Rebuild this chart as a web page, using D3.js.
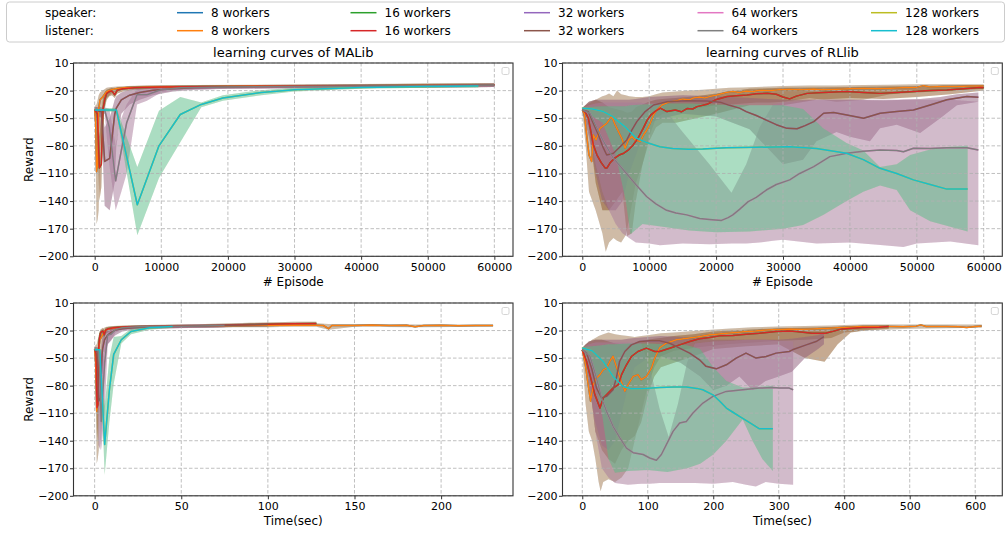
<!DOCTYPE html>
<html><head><meta charset="utf-8">
<script src="https://cdn.jsdelivr.net/npm/d3@7"></script>
<style>
body{margin:0;background:#fff}
text{font-family:"DejaVu Sans",sans-serif;fill:#000}
</style>
</head><body>
<svg id="chart" width="1007" height="534"></svg>
<script>
// ---------------- data ----------------
const groupLabels = ["8 workers","16 workers","32 workers","64 workers","128 workers"];
const roleLabels = ["speaker:","listener:"];
const speakerColors = ["#1f77b4","#2ca02c","#9467bd","#e377c2","#bcbd22"];
const listenerColors = ["#ff7f0e","#d62728","#8c564b","#7f7f7f","#17becf"];
const yTicks = [10,-20,-50,-80,-110,-140,-170,-200];
const yTickLabels = ["10","\u221220","\u221250","\u221280","\u2212110","\u2212140","\u2212170","\u2212200"];
const episodeTicks = [0,10000,20000,30000,40000,50000,60000];
const malibTimeTicks = [0,50,100,150,200];
const rllibTimeTicks = [0,100,200,300,400,500,600];

// MALib, x = episode.  mean: [x, reward]; band: [x, low, high]
const malibEpMean8 = [[0,-40],[150,-55],[280,-108],[450,-100],[600,-40],[800,-30],[1200,-27],[1800,-21],[2500,-19],[3500,-17.5],[5000,-16.5],[8000,-16],[15000,-15.5],[25000,-15],[35000,-14.8],[45000,-14.5],[55000,-14],[60000,-13.5]];
const malibEpBand8 = [[0,-44,-37],[150,-90,-36],[280,-165,-35],[450,-160,-30],[600,-150,-25],[800,-80,-22],[1200,-45,-20],[1800,-28,-17],[2500,-23,-16],[3500,-20,-15.5],[5000,-18.5,-15],[8000,-18,-14.5],[15000,-17.5,-14],[25000,-17,-13.5],[35000,-16.5,-13],[45000,-16.5,-12.5],[55000,-16,-12],[60000,-15.5,-12]];
const malibEpMean16 = [[0,-41],[400,-45],[700,-104],[1000,-100],[1250,-40],[1500,-30],[1800,-23],[2200,-21],[2600,-20.5],[3000,-24.5],[3400,-19.5],[4250,-18],[6000,-17],[10000,-16],[20000,-15.5],[30000,-15],[40000,-14.8],[50000,-14.5],[60000,-13.5]];
const malibEpBand16 = [[0,-44,-38],[400,-55,-38],[700,-140,-70],[1000,-125,-45],[1250,-55,-28],[1500,-40,-22],[1800,-30,-19],[2200,-26,-18],[2600,-25,-17],[3000,-28,-20],[3400,-23,-17],[4250,-21,-16],[6000,-19,-15],[10000,-18,-14.5],[20000,-17.5,-14],[30000,-17,-13.5],[40000,-16.5,-13],[50000,-16.5,-12.5],[60000,-16,-12]];
const malibEpMean32 = [[0,-41],[1000,-43],[1500,-97],[2250,-93.5],[3000,-46],[3250,-39],[4000,-30],[5250,-25],[6750,-22],[8750,-19.5],[11750,-18],[15000,-17],[20000,-16],[30000,-15.5],[45000,-15],[60000,-14]];
const malibEpBand32 = [[0,-44,-38],[1000,-50,-38],[1500,-145,-60],[2250,-150,-50],[3000,-120,-30],[3250,-80,-26],[4000,-45,-22],[5250,-35,-19],[6750,-30,-18],[8750,-25,-17],[11750,-21,-16],[15000,-19,-15],[20000,-18,-14.5],[30000,-17.5,-14],[45000,-17,-13.5],[60000,-16,-12.5]];
const malibEpMean64 = [[0,-41],[1500,-41],[2200,-60],[3150,-118],[4000,-85],[4800,-55],[6350,-24.5],[7850,-24.5],[9950,-19],[13000,-17],[20000,-16],[30000,-15.5],[45000,-15],[60000,-14]];
const malibEpBand64 = [[0,-44,-38],[1500,-45,-38],[2200,-100,-40],[3150,-150,-80],[4000,-130,-50],[4800,-110,-35],[6350,-35,-18],[7850,-31,-20],[9950,-22,-17],[13000,-19,-15.5],[20000,-18,-14.5],[30000,-17.5,-14],[45000,-17,-13.5],[60000,-16,-12.5]];
const malibEpMean128 = [[0,-41],[3250,-41],[6400,-144],[9650,-80],[12850,-46],[16000,-35],[19250,-28],[25000,-22],[30000,-19],[40000,-16.5],[50000,-15.5],[57600,-15]];
const malibEpBand128 = [[0,-42.5,-39.5],[3250,-43,-39],[6400,-177,-103],[9650,-115,-42],[12850,-76,-27],[16000,-38,-33],[19250,-31,-25],[25000,-25,-19.5],[30000,-21,-17],[40000,-18,-15],[50000,-17,-14],[57600,-16.5,-13.5]];

// MALib, x = time (sec)
const malibTimeMean8 = [[0,-40],[0.6,-55],[1.2,-108],[1.8,-100],[2.4,-40],[3,-30],[4,-27],[5.5,-21],[7,-19],[10,-17.5],[15,-16.5],[25,-16],[40,-15.5],[60,-15],[80,-14.8],[100,-14.5],[115,-14],[128,-14.2],[132,-14.5],[135,-18],[137,-14.5],[150,-14.5],[160,-14],[170,-14.5],[180,-14.2],[185,-15.8],[190,-14.5],[200,-14.3],[210,-14.8],[220,-14.4],[230,-14.6]];
const malibTimeBand8 = [[0,-44,-37],[0.6,-90,-36],[1.2,-165,-35],[1.8,-160,-30],[2.4,-150,-25],[3,-80,-22],[4,-45,-20],[5.5,-28,-17],[7,-23,-16],[10,-20,-15.5],[15,-18.5,-15],[25,-18,-14.5],[40,-17.5,-14],[60,-17,-13.5],[80,-16.5,-13],[100,-16.5,-12.5],[115,-16,-12],[128,-16,-12],[135,-19,-13],[150,-16,-13],[185,-16.5,-13.5],[230,-16,-13.5]];
const malibTimeMean16 = [[0,-41],[0.8,-45],[1.4,-104],[1.9,-100],[2.3,-40],[2.7,-30],[3.3,-23],[4,-21],[4.8,-20.5],[5.6,-24.5],[6.3,-19.5],[8,-18],[11,-17],[18,-16],[30,-15.5],[50,-15],[70,-14.5],[90,-13.5],[105,-12.8],[115,-12.5],[128,-12.3]];
const malibTimeBand16 = [[0,-44,-38],[0.8,-55,-38],[1.4,-140,-70],[1.9,-125,-45],[2.3,-55,-28],[2.7,-40,-22],[3.3,-30,-19],[4,-26,-18],[4.8,-25,-17],[5.6,-28,-20],[6.3,-23,-17],[8,-21,-16],[11,-19,-15],[18,-18,-14.5],[30,-17.5,-14],[50,-17,-13.5],[70,-16.5,-12.5],[90,-15.5,-11.5],[105,-15,-11],[115,-15,-10.5],[128,-15,-10.5]];
const malibTimeMean32 = [[0,-41],[1.5,-43],[2.3,-97],[3.3,-93.5],[4.3,-46],[4.7,-39],[5.7,-30],[7.5,-25],[9.5,-22],[12,-19.5],[16,-18],[22,-17],[30,-16],[45,-15.5],[65,-15],[85,-14],[100,-13.5]];
const malibTimeBand32 = [[0,-44,-38],[1.5,-50,-38],[2.3,-145,-60],[3.3,-150,-50],[4.3,-120,-30],[4.7,-80,-26],[5.7,-45,-22],[7.5,-35,-19],[9.5,-30,-18],[12,-25,-17],[16,-21,-16],[22,-19,-15],[30,-18,-14.5],[45,-17.5,-14],[65,-17,-13.5],[85,-16,-12.5],[100,-15.5,-12]];
const malibTimeMean64 = [[0,-41],[2,-41],[2.8,-60],[3.8,-119],[4.8,-85],[5.8,-55],[7.5,-25],[9.5,-24],[12,-19],[16,-17],[25,-16],[40,-15.5],[60,-15],[75,-14.5]];
const malibTimeBand64 = [[0,-44,-38],[2,-45,-38],[2.8,-100,-40],[3.8,-150,-80],[4.8,-130,-50],[5.8,-110,-35],[7.5,-35,-18],[9.5,-31,-20],[12,-22,-17],[16,-19,-15.5],[25,-18,-14.5],[40,-17.5,-14],[60,-17,-13.5],[75,-16.5,-13]];
const malibTimeMean128 = [[0,-41],[3,-41],[5.8,-144],[8.5,-85],[11,-46],[15.4,-30],[21,-21],[31.7,-17],[45,-15.6]];
const malibTimeBand128 = [[0,-43,-39],[3,-43,-39],[5.8,-177,-103],[8.5,-120,-50],[11,-78,-27],[15.4,-34,-26],[21,-24,-18],[31.7,-19,-15.5],[45,-17,-14.5]];

// RLlib, x = episode
const rllibEpMean8 = [[0,-41],[300,-45],[650,-68],[1000,-90],[1400,-97],[1650,-68],[2050,-73.6],[2650,-61],[3650,-55.5],[4400,-48],[4900,-57],[5900,-71.8],[6400,-82.7],[6900,-73.6],[7400,-70],[7900,-73.6],[8650,-75.4],[9150,-68.2],[9650,-62.8],[10150,-55.5],[10650,-46.4],[11150,-41],[11900,-35.6],[13150,-32],[14000,-31],[15000,-29],[16000,-30],[16600,-28],[17500,-27],[18300,-28],[19000,-26.5],[20000,-25],[21500,-22],[22500,-21],[23500,-22],[24500,-20.5],[25500,-21],[26500,-19.5],[28000,-20],[29500,-19],[31000,-18.5],[32500,-19],[34600,-18.2],[36000,-19],[38000,-18.5],[40000,-18],[42000,-17.5],[44000,-18],[46000,-17.5],[48000,-17],[50000,-16.5],[51000,-14.6],[52000,-16],[54000,-15.5],[56000,-15.5],[58000,-15],[60000,-15]];
const rllibEpBand8 = [[0,-43,-39],[500,-80,-36],[1000,-130,-34],[2000,-150,-30],[3000,-175,-26],[3500,-195,-25],[4000,-185,-23],[4650,-180,-26],[5200,-183,-20],[5800,-185,-24],[6500,-177,-25],[7000,-160,-26],[8000,-120,-27],[9000,-100,-27],[10000,-70,-26],[11000,-50,-24],[12000,-45,-22],[14000,-42,-21],[16000,-40,-20],[18000,-38,-19],[20000,-36,-18],[22000,-35,-17],[24000,-34,-16.5],[26000,-33,-16],[28000,-33,-15.5],[30000,-32,-15],[34000,-28,-14.5],[38000,-32,-14.5],[42000,-30,-14],[46000,-24,-13.5],[50000,-22,-13],[55000,-20,-13],[60000,-18,-13]];
const rllibEpMean16 = [[0,-41],[500,-44],[900,-50],[1300,-65],[1650,-79],[2200,-90],[2800,-98],[3400,-104],[3700,-104],[4200,-98],[4900,-93],[5500,-90],[6200,-88],[6800,-85],[7600,-79],[8300,-72],[9100,-61],[9700,-52],[10300,-46],[11000,-42],[11650,-39],[12650,-42.8],[13900,-41],[14800,-43],[15650,-39.5],[16500,-40],[17150,-37.4],[18650,-34.9],[19900,-30],[21650,-26.5],[23000,-25.5],[24650,-24.7],[26000,-23.5],[27650,-22.9],[29000,-24],[30000,-27],[31000,-29],[32000,-26],[33600,-23],[36000,-22],[39500,-21],[42000,-22],[44500,-23],[47000,-22],[49500,-21],[52000,-20],[54500,-19.3],[57000,-18],[59500,-16.7],[60000,-17]];
const rllibEpBand16 = [[0,-43,-39],[1000,-60,-32],[2000,-120,-30],[3000,-150,-33],[4000,-150,-38],[5000,-140,-40],[6000,-130,-42],[6700,-178,-44],[7400,-175,-43],[8000,-140,-38],[9000,-100,-35],[10000,-75,-32],[11000,-60,-30],[12000,-55,-29],[14000,-55,-28],[17000,-50,-26],[20000,-45,-23],[25000,-36,-18],[30000,-36,-17],[35000,-30,-16.5],[40000,-28,-16],[45000,-29,-15.5],[50000,-27,-15],[55000,-24,-14.5],[60000,-20,-14]];
const rllibEpMean32 = [[0,-41],[900,-43],[1600,-55],[2400,-68],[3000,-80],[3650,-90],[4650,-88],[5500,-82],[6650,-73.6],[7400,-63],[8150,-53.7],[9400,-42.8],[10650,-35.6],[12650,-32],[15650,-30.9],[18650,-31.2],[20650,-32.7],[22000,-36],[23500,-39],[24500,-42.8],[26000,-47],[27500,-52],[29000,-57],[30600,-61],[32100,-61.5],[33300,-58],[34600,-53.7],[36070,-44.6],[37560,-43.9],[39550,-46.4],[42040,-50],[44530,-44.6],[47000,-42.8],[49500,-41],[52000,-35.6],[54500,-30],[57500,-26.5],[59200,-27.2]];
const rllibEpBand32 = [[0,-43,-39],[1000,-70,-32],[2000,-110,-30],[3000,-140,-30],[4000,-150,-30],[5000,-150,-30],[6000,-140,-30],[7000,-110,-30],[8000,-90,-29],[9000,-70,-28],[10000,-55,-27],[12000,-50,-26],[15000,-45,-25],[20000,-48,-26],[25000,-62,-28],[30000,-100,-30],[33000,-95,-30],[35000,-75,-30],[38000,-65,-30],[40000,-70,-30],[43000,-75,-30],[44500,-61,-30],[47000,-57,-30],[50500,-66,-29],[53500,-50,-27],[56000,-36,-24],[59200,-32,-22]];
const rllibEpMean64 = [[0,-41],[1150,-44.6],[2000,-58],[3150,-75],[4650,-93.5],[6600,-110],[8000,-122],[9600,-135],[11000,-143],[12600,-150],[14000,-153],[15600,-155],[17550,-159],[19000,-160],[20800,-161],[21800,-158],[22500,-155],[23500,-149],[24800,-140.6],[26000,-136],[27500,-128],[29000,-122],[31000,-117],[32500,-110],[34600,-102.6],[37000,-91.7],[39550,-88],[42000,-86],[44500,-84.5],[47000,-85],[48000,-86.5],[49500,-82.7],[52000,-83],[54500,-82],[57500,-82],[59200,-84.5]];
const rllibEpBand64 = [[0,-43,-39],[1000,-60,-36],[2000,-100,-34],[3000,-130,-33],[4000,-150,-33],[5000,-165,-33],[6000,-175,-33],[7000,-180,-33],[8000,-185,-33],[10000,-186,-34],[11600,-188,-34],[15000,-186,-65],[19000,-187,-100],[22300,-186,-131],[24500,-186,-100],[26500,-185,-60],[28500,-183,-35],[30000,-182,-33],[35000,-186,-30],[40000,-185,-30],[45000,-188,-31],[48000,-190,-30],[50000,-186,-30],[55000,-184,-30],[59200,-188,-32]];
const rllibEpMean128 = [[0,-39.2],[1500,-40],[3150,-42.8],[4500,-48],[5150,-52],[6500,-60],[8100,-71.8],[9500,-76],[11600,-80.9],[13500,-83],[15800,-83.8],[18000,-83.5],[21500,-82],[26000,-81.5],[31000,-81],[35000,-83],[39500,-88],[42000,-95],[44500,-104.4],[47000,-110],[49500,-117],[52000,-122],[54500,-127],[57600,-127]];
const rllibEpBand128 = [[0,-41,-38],[3000,-55,-37],[5000,-90,-37],[6500,-140,-37],[7200,-176,-36],[9000,-165,-35],[12000,-168,-34],[16000,-172,-34],[20000,-174,-35],[25000,-173,-36],[30000,-170,-36],[33000,-166,-40],[36000,-155,-61],[39500,-140,-77],[42000,-130,-85],[44500,-123,-103],[47000,-128,-100],[49000,-150,-90],[52000,-162,-84],[55000,-168,-81],[57600,-173,-80]];

// RLlib, x = time (sec)
const rllibTimeMean8 = [[0,-41],[4,-53.7],[9,-79],[12.7,-97],[16.8,-79],[21.8,-71.8],[27,-68],[32,-62.8],[37,-61],[42,-53.7],[47,-48],[51,-57],[57,-70],[65,-86],[70,-79],[77.7,-70],[85,-68],[90,-73.6],[98,-70],[105.6,-61],[110.7,-50],[118,-39],[128.4,-33.8],[143.7,-30],[155,-29],[169,-27.6],[180,-26.5],[194.4,-24.7],[205,-24],[219.8,-22.9],[235,-22],[250,-21],[265,-20.5],[280.7,-19.3],[300,-18.8],[316,-18.2],[335,-18.5],[351,-18.2],[375,-17.5],[397,-16.7],[428,-15.6],[468,-15.6],[490,-15.8],[510,-15.2],[517,-13.8],[525,-15.5],[556,-15.5],[575,-16],[587,-16.7],[600,-15.5],[610,-15]];
const rllibTimeBand8 = [[0,-43,-39],[5,-100,-35],[10,-130,-33],[15,-140,-30],[20,-160,-28],[25,-185,-26],[28,-195,-25],[32,-185,-24],[40,-182,-22],[50,-185,-24],[60,-180,-25],[70,-170,-26],[80,-140,-27],[90,-110,-26],[100,-80,-25],[110,-60,-24],[120,-48,-23],[140,-42,-22],[180,-38,-20],[220,-35,-18],[260,-33,-16.5],[300,-31,-15.5],[340,-30,-15],[380,-28,-14.5],[400,-22,-14],[430,-20,-13.5],[500,-18,-13.5],[610,-17,-13.5]];
const rllibTimeMean16 = [[0,-41],[6.6,-53.7],[14.2,-75.4],[19.3,-90],[27,-104.4],[32,-93.5],[37,-90],[47,-82.7],[55,-79],[60,-68],[67.5,-57.3],[75,-48.3],[85,-42.8],[98,-39.2],[110.7,-42.8],[118,-42.8],[133.5,-39.2],[148.7,-35.6],[164,-32],[179,-29],[194.4,-27.6],[209.6,-25.8],[230,-25.4],[250,-24],[270.6,-22.9],[296,-21],[316,-20.4],[326.6,-21],[351,-22.9],[371.5,-22.9],[397,-18.2],[428,-16.7],[453,-16.4],[468,-15.6]];
const rllibTimeBand16 = [[0,-43,-39],[10,-70,-32],[20,-130,-30],[30,-150,-30],[40,-160,-32],[50,-165,-34],[60,-150,-35],[70,-140,-35],[80,-135,-34],[90,-120,-32],[100,-90,-30],[110,-70,-29],[120,-60,-28],[140,-55,-26],[170,-48,-24],[200,-40,-21],[250,-37,-19],[300,-35,-17.5],[340,-50,-17],[370,-54,-16.5],[390,-35,-16],[410,-22,-15],[440,-19,-14.5],[468,-18,-14]];
const rllibTimeMean32 = [[0,-41],[6.6,-44.6],[14.2,-61],[21.8,-82.7],[29.4,-93.5],[37,-91.7],[47,-84.5],[52,-71.8],[57,-53.7],[65,-42.8],[75,-35.6],[87.8,-32],[103,-31.2],[118,-31.2],[133.5,-33.8],[148.7,-39.2],[164,-44.6],[179,-51.9],[189,-59],[204.6,-61.7],[220,-57.3],[235,-50],[250,-44.6],[265.5,-50],[280.7,-48.3],[296,-44.6],[316,-42.8],[321,-41],[342,-35.6],[357,-32],[369,-26.5]];
const rllibTimeBand32 = [[0,-43,-39],[10,-80,-32],[20,-120,-30],[30,-145,-30],[40,-150,-30],[50,-140,-30],[60,-110,-30],[70,-80,-29],[80,-60,-28],[100,-50,-27],[120,-48,-26],[150,-55,-27],[180,-70,-29],[200,-85,-30],[220,-80,-30],[240,-70,-30],[260,-85,-30],[280,-75,-30],[300,-70,-30],[320,-65,-29],[340,-50,-27],[360,-40,-25],[369,-35,-22]];
const rllibTimeMean64 = [[0,-41],[11.7,-48],[21.8,-71.8],[29.4,-93.5],[37,-108],[47,-124.3],[57.4,-137],[67.5,-148],[77.7,-153],[92.9,-155],[103,-158.8],[113.2,-161.3],[120.8,-155],[128.4,-144.3],[138.6,-129.8],[148.7,-120.7],[158.9,-119],[169,-109.9],[184.3,-99],[199.5,-91.7],[219.8,-86.3],[245,-84.5],[270.6,-82.7],[291,-82],[301,-82.7],[316,-82.7],[322,-84.5]];
const rllibTimeBand64 = [[0,-43,-39],[10,-70,-35],[20,-130,-33],[30,-170,-33],[40,-180,-33],[50,-186,-33],[70,-188,-33],[90,-187,-34],[103,-187,-60],[118,-186,-105],[132,-186,-136],[146,-186,-100],[160,-186,-55],[172,-186,-34],[200,-187,-32],[230,-185,-31],[250,-188,-30],[265,-190,-30],[280,-185,-30],[300,-187,-31],[322,-188,-32]];
const rllibTimeMean128 = [[0,-39],[15,-42],[32,-53.7],[47,-70],[62.4,-81],[75,-83.4],[95,-83],[118,-82],[140,-81.5],[159,-81.6],[175,-83],[184,-84.5],[199.5,-90],[210,-97],[220,-104.4],[230,-109],[240,-113.5],[255,-120],[270.6,-127],[291,-127]];
const rllibTimeBand128 = [[0,-41,-38],[15,-60,-37],[30,-110,-36],[40,-160,-35],[50,-175,-35],[70,-173,-34],[100,-172,-34],[130,-174,-35],[160,-170,-36],[180,-165,-40],[200,-155,-60],[220,-140,-75],[245,-117,-82],[260,-140,-82],[275,-160,-81],[291,-173,-80]];

// ---------------- layout ----------------
const panels = [
  {id:"p1", left:73.5, right:513, top:63, bottom:256.3, xDomain:[-3180,62800], xTicks:episodeTicks,
   title:"learning curves of MALib", xLabel:"# Episode", yLabel:"Reward",
   means:[malibEpMean8,malibEpMean16,malibEpMean32,malibEpMean64,malibEpMean128],
   bands:[malibEpBand8,malibEpBand16,malibEpBand32,malibEpBand64,malibEpBand128]},
  {id:"p2", left:562.5, right:1002.3, top:63, bottom:256.3, xDomain:[-2960,62780], xTicks:episodeTicks,
   title:"learning curves of RLlib", xLabel:"# Episode", yLabel:null,
   means:[rllibEpMean8,rllibEpMean16,rllibEpMean32,rllibEpMean64,rllibEpMean128],
   bands:[rllibEpBand8,rllibEpBand16,rllibEpBand32,rllibEpBand64,rllibEpBand128]},
  {id:"p3", left:73.5, right:513, top:303, bottom:495.8, xDomain:[-12.2,241.5], xTicks:malibTimeTicks,
   title:null, xLabel:"Time(sec)", yLabel:"Reward",
   means:[malibTimeMean8,malibTimeMean16,malibTimeMean32,malibTimeMean64,malibTimeMean128],
   bands:[malibTimeBand8,malibTimeBand16,malibTimeBand32,malibTimeBand64,malibTimeBand128]},
  {id:"p4", left:562.5, right:1002.3, top:303, bottom:495.8, xDomain:[-30.2,641.4], xTicks:rllibTimeTicks,
   title:null, xLabel:"Time(sec)", yLabel:null,
   means:[rllibTimeMean8,rllibTimeMean16,rllibTimeMean32,rllibTimeMean64,rllibTimeMean128],
   bands:[rllibTimeBand8,rllibTimeBand16,rllibTimeBand32,rllibTimeBand64,rllibTimeBand128]}
];

const svg = d3.select("#chart");
const defs = svg.append("defs");

// ---------------- legend ----------------
const leg = svg.append("g");
leg.append("rect").attr("x",6.5).attr("y",2).attr("width",998).attr("height",40).attr("rx",3)
  .attr("fill","#fff").attr("fill-opacity",0.8).attr("stroke","#cccccc").attr("stroke-width",1);
const rowY = [12.7, 30.7];
roleLabels.forEach((lab,r)=>{
  leg.append("text").attr("x",45).attr("y",rowY[r]+4.3).attr("font-size",12).text(lab);
  const cols = r===0 ? speakerColors : listenerColors;
  groupLabels.forEach((g,i)=>{
    const x0 = 177 + 173.5*i;
    leg.append("line").attr("x1",x0).attr("x2",x0+26).attr("y1",rowY[r]).attr("y2",rowY[r])
      .attr("stroke",cols[i]).attr("stroke-width",1.5);
    leg.append("text").attr("x",x0+34).attr("y",rowY[r]+4.3).attr("font-size",12).text(g);
  });
});

// ---------------- panels ----------------
const yDomain = [-200,10];
panels.forEach(p=>{
  const x = d3.scaleLinear().domain(p.xDomain).range([p.left,p.right]);
  const y = d3.scaleLinear().domain(yDomain).range([p.bottom,p.top]);
  defs.append("clipPath").attr("id","clip-"+p.id).append("rect")
    .attr("x",p.left).attr("y",p.top).attr("width",p.right-p.left).attr("height",p.bottom-p.top);

  const area = d3.area().x(d=>x(d[0])).y0(d=>y(d[1])).y1(d=>y(d[2]));
  const line = d3.line().x(d=>x(d[0])).y(d=>y(d[1]));

  const bandG = svg.append("g").attr("clip-path",`url(#clip-${p.id})`);
  p.bands.forEach((b,k)=>{
    bandG.append("path").attr("d",area(b)).attr("fill",speakerColors[k]).attr("fill-opacity",0.3);
    bandG.append("path").attr("d",area(b)).attr("fill",listenerColors[k]).attr("fill-opacity",0.3);
  });

  // grid
  const grid = svg.append("g").attr("stroke","#b0b0b0").attr("stroke-width",0.8).attr("stroke-dasharray","3.5,2");
  p.xTicks.forEach(t=>grid.append("line").attr("x1",x(t)).attr("x2",x(t)).attr("y1",p.top).attr("y2",p.bottom));
  yTicks.forEach(t=>grid.append("line").attr("x1",p.left).attr("x2",p.right).attr("y1",y(t)).attr("y2",y(t)));

  // lines: speaker below, listener on top (identical rewards)
  const lineG = svg.append("g").attr("clip-path",`url(#clip-${p.id})`).attr("fill","none")
    .attr("stroke-width",1.5).attr("stroke-linejoin","round");
  p.means.forEach((m,k)=>{
    lineG.append("path").attr("d",line(m)).attr("stroke",speakerColors[k]);
  });
  p.means.forEach((m,k)=>{
    lineG.append("path").attr("d",line(m)).attr("stroke",listenerColors[k]);
  });

  // axes
  const xAxis = d3.axisBottom(x).tickValues(p.xTicks).tickSize(3.5).tickPadding(3).tickFormat(d=>String(d));
  const yAxis = d3.axisLeft(y).tickValues(yTicks).tickSize(3.5).tickPadding(1.5).tickFormat((d,i)=>yTickLabels[i]);
  const gx = svg.append("g").attr("transform",`translate(0,${p.bottom})`).call(xAxis);
  const gy = svg.append("g").attr("transform",`translate(${p.left},0)`).call(yAxis);
  [gx,gy].forEach(g=>{
    g.select(".domain").remove();
    g.selectAll("line").attr("stroke","#333");
    g.selectAll("text").attr("font-size",11).attr("font-family","DejaVu Sans").attr("fill","#000");
  });

  // frame
  svg.append("rect").attr("x",p.left).attr("y",p.top).attr("width",p.right-p.left).attr("height",p.bottom-p.top)
    .attr("fill","none").attr("stroke","#333").attr("stroke-width",1.1);

  // empty legend marker
  svg.append("rect").attr("x",p.right-11).attr("y",p.top+4.5).attr("width",7).attr("height",7).attr("rx",1.5)
    .attr("fill","#fff").attr("stroke","#d5d5d5").attr("stroke-width",1);

  if (p.title) svg.append("text").attr("x",(p.left+p.right)/2).attr("y",p.top-6.3)
    .attr("text-anchor","middle").attr("font-size",13).text(p.title);
  svg.append("text").attr("x",(p.left+p.right)/2).attr("y",p.bottom+29.5)
    .attr("text-anchor","middle").attr("font-size",12).text(p.xLabel);
  if (p.yLabel) svg.append("text").attr("transform",`translate(33,${(p.top+p.bottom)/2}) rotate(-90)`)
    .attr("text-anchor","middle").attr("font-size",12).text(p.yLabel);
});
</script>
</body></html>
